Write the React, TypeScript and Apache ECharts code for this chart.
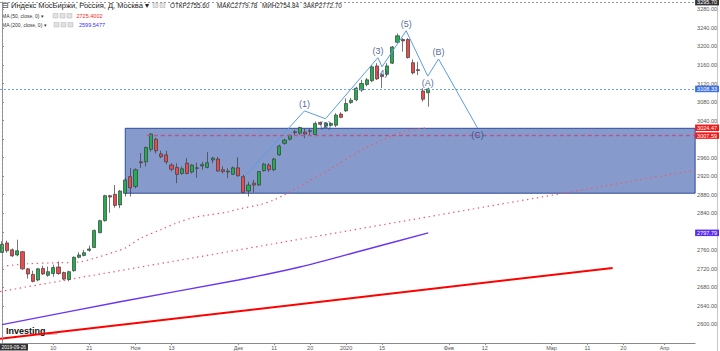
import React, { useEffect, useRef } from 'react';
import * as echarts from 'echarts';

// ---- Candle data (trading days from 2019-09-26, index 0) ----
const opens = [2755.6, 2776, 2761, 2750, 2757, 2720, 2708, 2696, 2721, 2706, 2710, 2724, 2712, 2697, 2716, 2745, 2749, 2760, 2766, 2798, 2824, 2878, 2881, 2858, 2883, 2919, 2898, 2951, 2951, 2978, 3000, 2968, 2966, 2944, 2939, 2926, 2948, 2929, 2937, 2942, 2939, 2955, 2957, 2934, 2929, 2924, 2938, 2919, 2888, 2905, 2901, 2932, 2944, 2934, 2966, 2991, 3000, 3014, 3013, 3015, 3017, 3010, 3036, 3028, 3030, 3030, 3054, 3061, 3079, 3085, 3106, 3118, 3126, 3158, 3138, 3140, 3164, 3209, 3215, 3215, 3165, 3150, 3104, 3100];
const closes = [2772.7, 2759, 2748, 2759, 2720, 2709, 2693, 2720, 2709, 2714, 2723, 2710, 2698, 2714, 2745, 2750, 2755, 2763, 2803, 2824, 2878, 2875, 2857, 2888, 2912, 2895, 2934, 2949, 2982, 3011, 2975, 2962, 2951, 2935, 2924, 2936, 2926, 2944, 2938, 2945, 2949, 2959, 2931, 2930, 2931, 2938, 2921, 2885, 2901, 2901, 2930, 2946, 2934, 2957, 2985, 2998, 3008, 3016, 3025, 3011, 3018, 3034, 3032, 3034, 3034, 3052, 3047, 3077, 3084, 3110, 3120, 3128, 3156, 3130, 3135, 3158, 3199, 3223, 3212, 3176, 3143, 3148, 3086, 3108.33];
const lows = [2754.84, 2755, 2746, 2747, 2718, 2699, 2691, 2693, 2707, 2703, 2703, 2707, 2695, 2693, 2714, 2743, 2747, 2757, 2765, 2797, 2822, 2841, 2852, 2851, 2876, 2876, 2894, 2938, 2941, 2973, 2969, 2959, 2946, 2930, 2905, 2923, 2924, 2926, 2917, 2934, 2937, 2948, 2930, 2926, 2916, 2923, 2919, 2883, 2876, 2885, 2899, 2930, 2929, 2931, 2964, 2988, 2997, 3009, 3009, 3002, 3009, 3009, 3030, 3026, 3028, 3026, 3045, 3059, 3076, 3082, 3102, 3114, 3123, 3128, 3110, 3136, 3162, 3207, 3189, 3174, 3140, 3138, 3081, 3070];
const highs = [2779.78, 2781, 2764, 2783, 2759, 2722, 2716, 2722, 2727, 2725, 2729, 2736, 2714, 2716, 2747, 2756, 2761, 2770, 2805, 2826, 2880, 2880, 2901, 2890, 2916, 2938, 2937, 2970, 2984, 3013, 3003, 2975, 2975, 2948, 2948, 2941, 2959, 2946, 2949, 2951, 2972, 2962, 2962, 2941, 2937, 2941, 2961, 2923, 2908, 2912, 2931, 2949, 2948, 2960, 2988, 3001, 3010, 3020, 3027, 3023, 3022, 3038, 3038, 3036, 3036, 3056, 3058, 3088, 3089, 3113, 3128, 3132, 3160, 3164, 3142, 3164, 3201, 3228, 3218, 3218, 3172, 3167, 3110, 3111];

// ---- X axis ticks (trading-day index) ----
const xTickIdx = [10, 17, 26, 33, 46, 53, 60, 67, 74, 87, 94, 107, 114, 121, 129];
const xTickText = ['10', '21', 'Ноя', '13', 'Дек', '11', '20', '2020', '15', 'Фев', '12', 'Мар', '11', '20', 'Апр'];
// y labels hidden under the price tags
const yHiddenLabels = [3000, 2800];

// ---- Moving averages (sampled readings) ----
const ma50Idx = [0, 5, 10, 15, 18, 22, 24, 27, 31, 34, 37, 40, 44, 46, 50, 53, 55, 64, 69, 74, 79, 83];
const ma50Val = [2725.4, 2731, 2733, 2735, 2743, 2757, 2765, 2786, 2805, 2819, 2830, 2836, 2843, 2849, 2858, 2869, 2880, 2936, 2970, 2998, 3019, 3024.47];
const ma200Idx = [0, 23, 46, 58, 70, 83];
const ma200Val = [2599.5477, 2649, 2696, 2724, 2759, 2797.79];

// ---- Drawings ----
const trendIdx = [-0.39, 134.96];
const trendVal = [2671, 2933];
const redLineIdx = [-0.39, 118.9];
const redLineVal = [2569, 2722];
const waveIdx = [47.5, 58.9, 63.0, 73.2, 74.0, 78.7, 82.9, 85.0, 92.6];
const waveVal = [2923, 3061, 3044, 3176, 3156, 3234, 3136, 3173, 3024];
const waveLabels = ['', '(1)', '(2)', '(3)', '(4)', '(5)', '(A)', '(B)', '(C)'];
const waveLabelPos = ['', 'top', 'bottom', 'top', 'bottom', 'top', 'bottom', 'top', 'bottom'];
const boxIdx = [24, 134.96];
const boxVal = [3023.4, 2883.3];
const levelStartIdx = 28.2;
const levelValue = 3007.59;
const lastClose = 3108.33;
const ma50Last = 3024.47;
const ma200Last = 2797.79;
const cursorDate = '2019-09-26';
const cursorValue = 3295.7;

const X_MIN = -0.39;
const X_MAX = 134.96;
const FONT = 'Arial, Liberation Sans, sans-serif';

const tag = (bg: string, text: string) => ({
  show: true,
  position: 'end',
  formatter: text,
  backgroundColor: bg,
  color: '#fff',
  fontSize: 5.5,
  lineHeight: 6.5,
  fontFamily: FONT,
  padding: [0, 2, 0, 2],
  distance: 0,
});

const hidden = { color: 'rgba(0,0,0,0)', width: 0 };

export default function App() {
  const ref = useRef<HTMLDivElement>(null);
  useEffect(() => {
    if (!ref.current) return;
    const chart = echarts.init(ref.current, undefined, { renderer: 'svg' });
    const candles = opens.map((o, i) => [i, o, closes[i], lows[i], highs[i]]);
    const iconRect = (x: number, y: number) => ({
      type: 'rect',
      shape: { x, y, width: 5, height: 4.5 },
      style: { fill: '#e2e2e2', stroke: '#b0b0b0', lineWidth: 0.5 },
    });
    const option: any = {
      animation: false,
      backgroundColor: '#ffffff',
      grid: { left: 0, right: 24.3, top: 2, bottom: 7.8, containLabel: false },
      xAxis: {
        type: 'value',
        min: X_MIN,
        max: X_MAX,
        splitLine: { show: false },
        axisLine: { show: true, lineStyle: { color: '#8a8a8a', width: 1 } },
        axisTick: { show: true, customValues: xTickIdx, length: 2, lineStyle: { color: '#8a8a8a' } },
        axisLabel: {
          customValues: xTickIdx,
          fontSize: 5.5,
          color: '#555',
          margin: 2,
          fontFamily: FONT,
          formatter: (v: number) => {
            const k = xTickIdx.indexOf(Math.round(v));
            return k >= 0 ? xTickText[k] : '';
          },
        },
      },
      yAxis: {
        type: 'value',
        position: 'right',
        min: 2560,
        max: 3296,
        interval: 40,
        splitLine: { show: false },
        axisLine: { show: true, lineStyle: { color: '#8a8a8a', width: 1 } },
        axisTick: { show: true, length: 2, lineStyle: { color: '#8a8a8a' } },
        axisLabel: {
          fontSize: 5.5,
          color: '#555',
          margin: 2,
          fontFamily: FONT,
          showMinLabel: false,
          showMaxLabel: false,
          formatter: (v: number) => (yHiddenLabels.indexOf(Math.round(v)) >= 0 ? '' : v.toFixed(2)),
        },
      },
      series: [
        {
          type: 'line',
          data: [],
          z: 1,
          silent: true,
          markArea: {
            silent: true,
            itemStyle: { color: 'rgba(62, 92, 172, 0.62)', borderColor: '#2d4c9c', borderWidth: 1 },
            data: [[{ coord: [boxIdx[0], boxVal[0]] }, { coord: [boxIdx[1], boxVal[1]] }]],
          },
        },
        {
          type: 'line',
          data: ma200Idx.map((x, i) => [x, ma200Val[i]]),
          showSymbol: false,
          smooth: 0.3,
          z: 2,
          lineStyle: { color: '#6a35f5', width: 1.4 },
        },
        {
          type: 'line',
          data: redLineIdx.map((x, i) => [x, redLineVal[i]]),
          showSymbol: false,
          z: 2,
          lineStyle: { color: '#ff0000', width: 2 },
        },
        {
          type: 'line',
          data: trendIdx.map((x, i) => [x, trendVal[i]]),
          showSymbol: false,
          z: 2,
          lineStyle: { color: '#f2566a', width: 1.2, type: [1.4, 3.6] },
        },
        {
          type: 'line',
          data: ma50Idx.map((x, i) => [x, ma50Val[i]]),
          showSymbol: false,
          smooth: 0.3,
          z: 2,
          lineStyle: { color: '#f2566a', width: 1.2, type: [1.4, 3.6] },
        },
        {
          type: 'candlestick',
          data: candles,
          encode: { x: 0, y: [1, 2, 3, 4] },
          barWidth: 3.6,
          z: 3,
          itemStyle: {
            color: '#1fb04e',
            color0: '#ee4a4a',
            borderColor: '#3b3b3b',
            borderColor0: '#3b3b3b',
            borderWidth: 0.7,
          },
          markLine: {
            silent: true,
            symbol: 'none',
            data: [
              {
                yAxis: lastClose,
                lineStyle: { color: '#6d9ef0', width: 1, type: [2, 2] },
                label: tag('#3f72e0', lastClose.toFixed(2)),
              },
              [
                {
                  coord: [levelStartIdx, levelValue],
                  lineStyle: { color: '#b4578a', width: 1.3, type: [4, 3] },
                  label: tag('#f01818', levelValue.toFixed(2)),
                },
                { coord: [X_MAX, levelValue] },
              ],
              {
                yAxis: ma50Last,
                lineStyle: hidden,
                label: tag('#f01818', ma50Last.toFixed(2)),
              },
              {
                yAxis: ma200Last,
                lineStyle: hidden,
                label: tag('#5a2ef0', ma200Last.toFixed(2)),
              },
              {
                xAxis: 0,
                lineStyle: { color: '#9a9a9a', width: 1, type: [2, 2] },
                label: { show: false },
              },
              {
                yAxis: cursorValue,
                lineStyle: { color: '#9a9a9a', width: 1, type: [2, 2] },
                label: tag('#333333', cursorValue.toFixed(2)),
              },
            ],
          },
        },
        {
          type: 'line',
          data: waveIdx.map((x, i) => [x, waveVal[i]]),
          showSymbol: false,
          z: 4,
          lineStyle: { color: '#5b9ce0', width: 1 },
        },
        {
          type: 'scatter',
          symbolSize: 0,
          z: 5,
          data: waveIdx.map((x, i) => ({
            value: [x, waveVal[i]],
            label: {
              show: waveLabels[i] !== '',
              formatter: waveLabels[i],
              position: waveLabelPos[i] || 'top',
              distance: 2,
              color: '#1d3f80',
              fontSize: 9,
              fontFamily: FONT,
            },
          })),
        },
      ],
      graphic: [
        { type: 'text', left: 2, top: 1.5, style: { text: '⊟ Индекс МосБиржи, Россия, Д, Москва ▾', fontSize: 7.5, fill: '#222', fontFamily: FONT } },
        iconRect(153, 3),
        iconRect(160, 3),
        { type: 'text', left: 170, top: 2.5, style: { text: 'ОТКР2755.60', fontSize: 6.3, fill: '#222', fontFamily: FONT } },
        { type: 'text', left: 217, top: 2.5, style: { text: 'МАКС2779.78', fontSize: 6.3, fill: '#222', fontFamily: FONT } },
        { type: 'text', left: 262, top: 2.5, style: { text: 'МИН2754.84', fontSize: 6.3, fill: '#222', fontFamily: FONT } },
        { type: 'text', left: 303, top: 2.5, style: { text: 'ЗАКР2772.70', fontSize: 6.3, fill: '#222', fontFamily: FONT } },
        { type: 'text', left: 2, top: 13.5, style: { text: 'MA (50, close, 0) ▾', fontSize: 5, fill: '#333', fontFamily: FONT } },
        iconRect(53, 13.5),
        iconRect(60, 13.5),
        iconRect(67, 13.5),
        { type: 'text', left: 76.5, top: 13.3, style: { text: '2725.4002', fontSize: 5.5, fill: '#ff1a1a', fontFamily: FONT } },
        { type: 'text', left: 2, top: 22.5, style: { text: 'MA (200, close, 0) ▾', fontSize: 5, fill: '#333', fontFamily: FONT } },
        iconRect(54, 22.5),
        iconRect(61, 22.5),
        iconRect(68, 22.5),
        { type: 'text', left: 79, top: 22.3, style: { text: '2599.5477', fontSize: 5.5, fill: '#3a2bff', fontFamily: FONT } },
        { type: 'text', left: 6, top: 326, style: { text: 'Investing', fontSize: 9, fontWeight: 'bold', fill: '#111', fontFamily: FONT } },
        { type: 'text', left: 45.5, top: 330, style: { text: '.com', fontSize: 5.5, fill: '#777', fontFamily: FONT } },
        { type: 'rect', shape: { x: 0, y: 343.5, width: 28, height: 7 }, style: { fill: '#333' } },
        { type: 'text', left: 1.5, top: 344.6, style: { text: cursorDate, fontSize: 4.8, fill: '#fff', fontFamily: FONT } },
        { type: 'line', shape: { x1: 717.5, y1: 0, x2: 717.5, y2: 351 }, style: { stroke: '#c8c8c8', lineWidth: 1 } },
      ],
    };
    chart.setOption(option);
    return () => chart.dispose();
  }, []);
  return <div ref={ref} style={{ width: 720, height: 351, position: 'absolute', left: 0, top: 0 }} />;
}
